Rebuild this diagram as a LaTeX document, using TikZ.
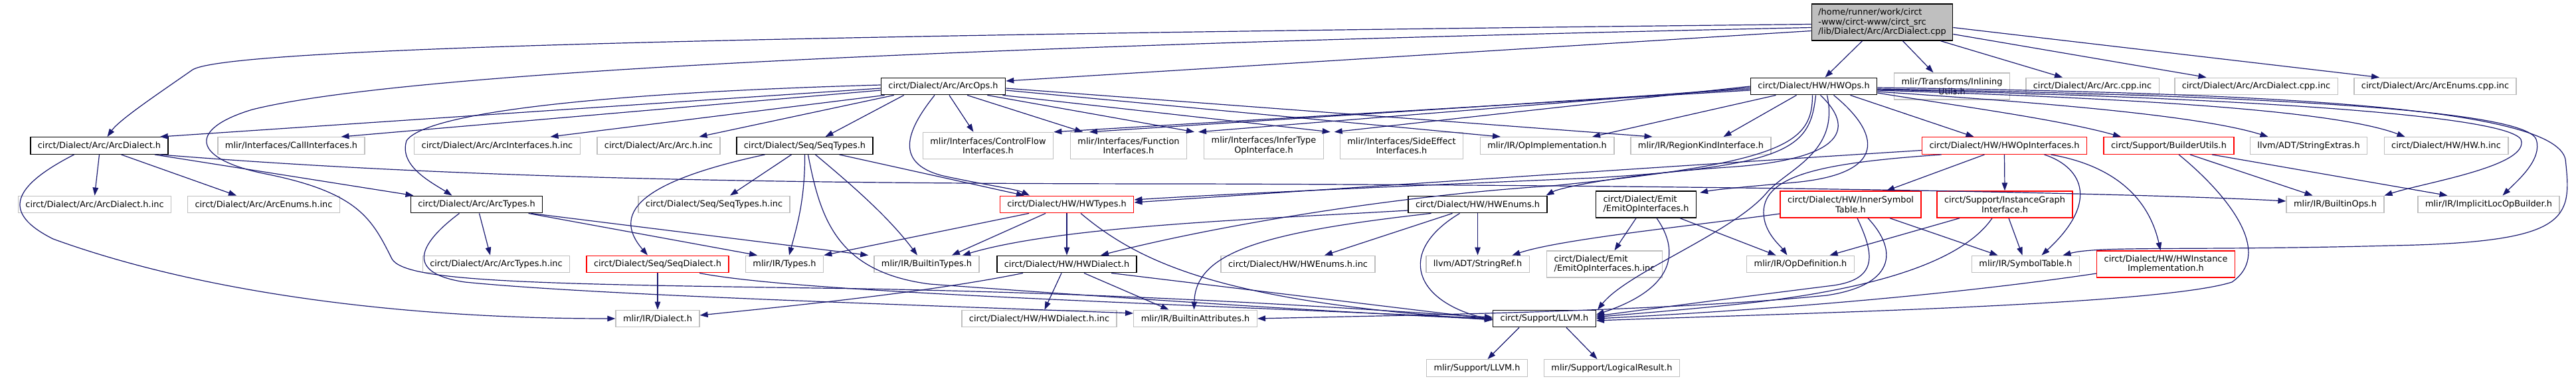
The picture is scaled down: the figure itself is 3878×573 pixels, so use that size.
\documentclass[tikz,border=0pt]{standalone}
\usepackage{fontspec}
\setmainfont{DejaVu Sans}
\usetikzlibrary{arrows.meta}
\definecolor{aresta}{HTML}{191970}
\definecolor{cinza}{HTML}{BFBFBF}
\definecolor{corte}{HTML}{FF0000}

\begin{document}
\begin{tikzpicture}[x=1pt,y=-1pt,font=\fontsize{12.9}{14.5}\selectfont,
  doc/.style={draw=black, fill=white, line width=1.4pt, inner xsep=11pt, inner ysep=0pt, minimum height=25.5pt},
  nodoc/.style={doc, draw=cinza},
  trunc/.style={doc, draw=corte},
  dois/.style={align=center, minimum height=40pt},
  seta/.style={-{Triangle[length=12pt,width=8.5pt]}, aresta, line width=1.2pt}]
\useasboundingbox (0,0) rectangle (3878,573);
% arquivo raiz
\node[doc, fill=cinza, align=left, minimum height=55pt, inner xsep=10pt] (cpp) at (2833.5,33.5) {/home/runner/work/circt\\-www/circt-www/circt\_src\\/lib/Dialect/Arc/ArcDialect.cpp};
% linha 1
\node[doc] (aoh) at (1420,130) {circt/Dialect/Arc/ArcOps.h};
\node[doc] (hoh) at (2730.5,130) {circt/Dialect/HW/HWOps.h};
\node[nodoc, dois] (inl) at (2938.5,130) {mlir/Transforms/Inlining\\Utils.h};
\node[nodoc] (acpp) at (3150,130) {circt/Dialect/Arc/Arc.cpp.inc};
\node[nodoc] (adcpp) at (3396.5,130) {circt/Dialect/Arc/ArcDialect.cpp.inc};
\node[nodoc] (aecpp) at (3666,130) {circt/Dialect/Arc/ArcEnums.cpp.inc};
% linha 2
\node[doc] (adh) at (149.5,219.5) {circt/Dialect/Arc/ArcDialect.h};
\node[nodoc] (cih) at (438.5,219.5) {mlir/Interfaces/CallInterfaces.h};
\node[nodoc] (aiih) at (748.5,219.5) {circt/Dialect/Arc/ArcInterfaces.h.inc};
\node[nodoc] (ahih) at (991.5,219.5) {circt/Dialect/Arc/Arc.h.inc};
\node[doc] (sth) at (1211.5,219.5) {circt/Dialect/Seq/SeqTypes.h};
\node[nodoc, dois] (cfh) at (1487.5,219.5) {mlir/Interfaces/ControlFlow\\Interfaces.h};
\node[nodoc, dois] (fih) at (1699,219.5) {mlir/Interfaces/Function\\Interfaces.h};
\node[nodoc, dois] (ith) at (1902.5,219.5) {mlir/Interfaces/InferType\\OpInterface.h};
\node[nodoc, dois] (seh) at (2110,219.5) {mlir/Interfaces/SideEffect\\Interfaces.h};
\node[nodoc] (oih) at (2329,219.5) {mlir/IR/OpImplementation.h};
\node[nodoc] (rkh) at (2560.5,219.5) {mlir/IR/RegionKindInterface.h};
\node[trunc] (hoih) at (3017.5,219.5) {circt/Dialect/HW/HWOpInterfaces.h};
\node[trunc] (buh) at (3265,219.5) {circt/Support/BuilderUtils.h};
\node[nodoc] (sxh) at (3475.5,219.5) {llvm/ADT/StringExtras.h};
\node[nodoc] (hwih) at (3682.5,219.5) {circt/Dialect/HW/HW.h.inc};
% linha 3
\node[nodoc] (adih) at (142.5,308) {circt/Dialect/Arc/ArcDialect.h.inc};
\node[nodoc] (aeih) at (397,308) {circt/Dialect/Arc/ArcEnums.h.inc};
\node[doc] (ath) at (717.5,308) {circt/Dialect/Arc/ArcTypes.h};
\node[nodoc] (stih) at (1075,308) {circt/Dialect/Seq/SeqTypes.h.inc};
\node[trunc] (hth) at (1606,308) {circt/Dialect/HW/HWTypes.h};
\node[doc] (heh) at (2224.5,308) {circt/Dialect/HW/HWEnums.h};
\node[doc, dois, align=left] (eoh) at (2478,308) {circt/Dialect/Emit\\/EmitOpInterfaces.h};
\node[trunc, dois] (ish) at (2786,308) {circt/Dialect/HW/InnerSymbol\\Table.h};
\node[trunc, dois] (igh) at (3018,308) {circt/Support/InstanceGraph\\Interface.h};
\node[nodoc] (boh) at (3515.5,308) {mlir/IR/BuiltinOps.h};
\node[nodoc] (ilh) at (3746.5,308) {mlir/IR/ImplicitLocOpBuilder.h};
% linha 4
\node[nodoc] (atih) at (747,398) {circt/Dialect/Arc/ArcTypes.h.inc};
\node[trunc] (sdh) at (990,398) {circt/Dialect/Seq/SeqDialect.h};
\node[nodoc] (tyh) at (1181,398) {mlir/IR/Types.h};
\node[nodoc] (bth) at (1395,398) {mlir/IR/BuiltinTypes.h};
\node[doc] (hdh) at (1606,398) {circt/Dialect/HW/HWDialect.h};
\node[nodoc] (heih) at (1954,398) {circt/Dialect/HW/HWEnums.h.inc};
\node[nodoc] (srh) at (2224.5,398) {llvm/ADT/StringRef.h};
\node[nodoc, dois, align=left] (eoih) at (2415.5,398) {circt/Dialect/Emit\\/EmitOpInterfaces.h.inc};
\node[nodoc] (odh) at (2710.5,398) {mlir/IR/OpDefinition.h};
\node[nodoc] (syth) at (3049.5,398) {mlir/IR/SymbolTable.h};
\node[trunc, dois] (hiih) at (3260.5,398) {circt/Dialect/HW/HWInstance\\Implementation.h};
% linha 5 e 6
\node[nodoc] (dih) at (990,480) {mlir/IR/Dialect.h};
\node[nodoc] (hdih) at (1564.5,480) {circt/Dialect/HW/HWDialect.h.inc};
\node[nodoc] (bah) at (1799.5,480) {mlir/IR/BuiltinAttributes.h};
\node[doc] (slh) at (2325,480) {circt/Support/LLVM.h};
\node[nodoc] (mlh) at (2223.5,554.5) {mlir/Support/LLVM.h};
\node[nodoc] (lrh) at (2426.5,554.5) {mlir/Support/LogicalResult.h};
% arestas retas
\foreach \a/\b in {adh.south/adih.north, heh.south/srh.north, hth.south/hdh.north, sdh.south/dih.north, hoih.south/igh.north}
  \draw[seta] (\a) -- (\b);
% raiz
\draw[seta] ([yshift=-3]cpp.west) .. controls (1000,55) and (340,75) .. (290,105) .. controls (240,140) and (180,180) .. ([xshift=12]adh.north);
\draw[seta] ([yshift=-13]cpp.west) -- ([yshift=8]aoh.east);
\draw[seta] ([yshift=-8]cpp.west) .. controls (1400,70) and (600,110) .. (380,165) .. controls (280,195) and (290,240) .. (400,262) .. controls (540,290) and (560,330) .. (590,390) .. controls (610,425) and (800,428) .. (1300,435) .. controls (1800,445) and (2100,470) .. ([yshift=2]slh.west);
\draw[seta] ([xshift=-30]cpp.south) -- ([xshift=17]hoh.north);
\draw[seta] ([xshift=31]cpp.south) -- ([xshift=-28]inl.north);
\draw[seta] ([xshift=88]cpp.south) -- ([xshift=-45]acpp.north);
\draw[seta] ([yshift=-18]cpp.east) -- ([xshift=-75]adcpp.north);
\draw[seta] ([yshift=-8]cpp.east) -- ([xshift=-84]aecpp.north);
% arcops
\draw[seta] ([yshift=-3]aoh.west) -- ([xshift=-13]adh.north east);
\draw[seta] ([yshift=-6]aoh.west) -- ([xshift=75]cih.north);
\draw[seta] ([xshift=6]aoh.south west) -- ([xshift=80]aiih.north);
\draw[seta] ([xshift=20]aoh.south west) -- ([xshift=61]ahih.north);
\draw[seta] ([xshift=35]aoh.south west) -- ([xshift=31]sth.north);
\draw[seta] ([yshift=2]aoh.west) .. controls (900,140) and (640,170) .. (612,212) .. controls (600,250) and (650,275) .. ([xshift=-37]ath.north);
\draw[seta] ([xshift=-13]aoh.south) .. controls (1370,190) and (1340,245) .. (1420,265) .. controls (1480,278) and (1530,285) .. ([xshift=-56]hth.north);
\draw[seta] ([xshift=9]aoh.south) -- ([xshift=-22]cfh.north);
\draw[seta] ([xshift=36]aoh.south) -- ([xshift=-69]fih.north);
\draw[seta] ([xshift=-28]aoh.south east) -- ([xshift=-14]ith.north west);
\draw[seta] ([xshift=-5]aoh.south east) -- ([xshift=-14]seh.north west);
\draw[seta] ([yshift=-6]aoh.east) -- ([xshift=-70]oih.north);
\draw[seta] ([yshift=-3]aoh.east) -- ([xshift=-73]rkh.north);
% hwops
\draw[seta] ([yshift=-6]hoh.west) -- (cfh.north east);
\draw[seta] ([yshift=-4]hoh.west) -- ([xshift=-59]fih.north);
\draw[seta] ([yshift=-2]hoh.west) -- ([xshift=-8]ith.north west);
\draw[seta] (hoh.west) -- ([xshift=-8]seh.north west);
\draw[seta] ([xshift=-57]hoh.south) -- ([xshift=68]oih.north);
\draw[seta] ([xshift=-26]hoh.south) -- ([xshift=34]rkh.north);
\draw[seta] ([xshift=3]hoh.south) .. controls (2725,220) and (2700,250) .. (2400,268) .. controls (2000,285) and (1800,295) .. ([yshift=7]hth.east);
\draw[seta] ([xshift=-2]hoh.south) .. controls (2728,215) and (2690,245) .. (2336,280) .. controls (2100,295) and (1830,340) .. ([xshift=51]hdh.north);
\draw[seta] ([xshift=10]hoh.south) .. controls (2790,190) and (2785,240) .. (2600,252) .. controls (2450,262) and (2350,282) .. ([xshift=103]heh.north);
\draw[seta] ([xshift=30]hoh.south) .. controls (2830,200) and (2845,262) .. (2700,275) .. controls (2620,282) and (2580,286) .. ([xshift=5,yshift=-3]eoh.north east);
\draw[seta] ([xshift=20]hoh.south) .. controls (2770,230) and (2690,255) .. (2660,290) .. controls (2610,350) and (2450,410) .. ([xshift=2]slh.north east);
\draw[seta] ([xshift=55]hoh.south) -- ([xshift=-46]hoih.north);
\draw[seta] ([yshift=-10]hoh.east) .. controls (2950,160) and (3100,180) .. ([xshift=-72]buh.north);
\draw[seta] ([yshift=-8]hoh.east) .. controls (3000,150) and (3300,170) .. ([xshift=-61]sxh.north);
\draw[seta] ([yshift=-6]hoh.east) .. controls (3100,145) and (3500,160) .. ([xshift=-62]hwih.north);
\draw[seta] ([yshift=-5]hoh.east) .. controls (3300,145) and (3770,170) .. (3795,210) .. controls (3810,250) and (3650,275) .. ([xshift=74]boh.north);
\draw[seta] ([yshift=-4]hoh.east) .. controls (3300,142) and (3800,160) .. (3818,210) .. controls (3828,240) and (3790,272) .. ([xshift=21]ilh.north);
\draw[seta] ([yshift=-2]hoh.east) .. controls (3400,140) and (3845,160) .. (3862,240) .. controls (3872,330) and (3870,365) .. (3600,370) .. controls (3300,378) and (3160,370) .. ([xshift=56]syth.north);
% hwopinterfaces
\draw[seta] ([yshift=-7]hoih.west) .. controls (2600,245) and (2000,285) .. ([yshift=3]hth.east);
\draw[seta] ([xshift=-30]hoih.south) -- ([xshift=54]ish.north);
\draw[seta] ([xshift=60]hoih.south) .. controls (3130,250) and (3165,300) .. ([xshift=24]syth.north);
\draw[seta] ([xshift=70]hoih.south) .. controls (3185,250) and (3235,300) .. ([xshift=-8]hiih.north);
\draw[seta] ([xshift=-95]hoih.south) .. controls (2750,245) and (2655,262) .. (2655,320) .. controls (2655,350) and (2680,370) .. ([xshift=-20]odh.north);
% builderutils
\draw[seta] ([xshift=32]buh.south) -- ([xshift=-34]boh.north);
\draw[seta] ([xshift=65]buh.south) -- ([xshift=-62]ilh.north);
\draw[seta] ([xshift=15]buh.south) .. controls (3350,290) and (3425,380) .. (3360,425) .. controls (3250,460) and (2700,472) .. ([yshift=-3]slh.east);
% innersymbol / instancegraph / hwinstance
\draw[seta] ([xshift=59]ish.south) -- ([xshift=-42]syth.north);
\draw[seta] ([yshift=-14]ish.west) .. controls (2550,340) and (2350,360) .. ([xshift=52]srh.north);
\draw[seta] ([xshift=10]ish.south) .. controls (2820,380) and (2830,420) .. (2760,430) .. controls (2600,450) and (2450,470) .. ([yshift=4]slh.east);
\draw[seta] ([xshift=26]ish.south) .. controls (2860,380) and (2850,430) .. (2750,445) .. controls (2500,470) and (2100,475) .. (bah.east);
\draw[seta] ([xshift=-68]igh.south) -- ([xshift=44]odh.north);
\draw[seta] ([xshift=6]igh.south) -- ([xshift=-5]syth.north);
\draw[seta] ([xshift=-19]igh.south) .. controls (2950,400) and (2800,440) .. (2600,460) .. controls (2500,470) and (2430,475) .. ([yshift=2]slh.east);
\draw[seta] ([yshift=-14]hiih.west) .. controls (2900,450) and (2600,470) .. (slh.east);
% emit
\draw[seta] ([xshift=-15]eoh.south) -- ([xshift=15]eoih.north);
\draw[seta] ([xshift=16]eoh.south) .. controls (2530,380) and (2520,435) .. ([yshift=6]slh.east);
\draw[seta] ([xshift=51]eoh.south) -- ([xshift=-37]odh.north);
% hwenums
\draw[seta] ([yshift=-9]heh.west) .. controls (1900,330) and (1600,340) .. ([xshift=54]bth.north);
\draw[seta] ([xshift=-70]heh.south) .. controls (1900,350) and (1800,380) .. ([xshift=-2]bah.north);
\draw[seta] ([xshift=-38]heh.south) -- ([xshift=40]heih.north);
\draw[seta] ([xshift=-27]heh.south) .. controls (2100,380) and (2130,455) .. ([yshift=-2]slh.west);
% hwtypes / hwdialect
\draw[seta] ([xshift=-57]hth.south) -- (tyh.north east);
\draw[seta] ([xshift=-32]hth.south) -- ([xshift=38]bth.north);
\draw[seta] ([xshift=21]hth.south) .. controls (1720,400) and (1850,455) .. ([yshift=-2]slh.west);
\draw[seta] ([xshift=-66]hdh.south) .. controls (1400,440) and (1200,460) .. ([yshift=5]dih.east);
\draw[seta] ([xshift=-8]hdh.south) -- ([xshift=8]hdih.north);
\draw[seta] ([xshift=26]hdh.south) -- ([xshift=-40]bah.north);
\draw[seta] ([xshift=67]hdh.south) -- ([yshift=-1]slh.west);
% seqtypes / seqdialect
\draw[seta] ([xshift=-60]sth.south) .. controls (980,270) and (915,315) .. ([xshift=-15]sdh.north);
\draw[seta] ([xshift=-20]sth.south) -- ([xshift=24]stih.north);
\draw[seta] (sth.south) .. controls (1212,300) and (1200,340) .. ([xshift=7]tyh.north);
\draw[seta] ([xshift=16]sth.south) .. controls (1290,285) and (1340,330) .. ([xshift=-14]bth.north);
\draw[seta] ([xshift=52]sth.south) -- ([xshift=-64]hth.north);
\draw[seta] ([xshift=5]sth.south) .. controls (1235,330) and (1260,410) .. (1400,428) .. controls (1700,450) and (2000,470) .. ([yshift=-1]slh.west);
\draw[seta] ([xshift=63]sdh.south) .. controls (1200,440) and (1700,455) .. (slh.west);
% arctypes
\draw[seta] ([xshift=4]ath.south) -- ([xshift=-9]atih.north);
\draw[seta] ([xshift=78]ath.south) -- ([xshift=-41]tyh.north);
\draw[seta] ([xshift=-18]ath.south east) -- ([xshift=-8]bth.north west);
\draw[seta] ([xshift=-26]ath.south) .. controls (640,360) and (600,410) .. (700,425) .. controls (900,445) and (1400,460) .. ([yshift=8]bah.west);
% arcdialect
\draw[seta] ([xshift=33]adh.south) -- ([xshift=-41]aeih.north);
\draw[seta] ([xshift=-21]adh.south east) -- ([xshift=-95]ath.north);
\draw[seta] ([xshift=-38]adh.south) .. controls (20,280) and (0,320) .. (80,360) .. controls (300,440) and (600,480) .. (dih.west);
\draw[seta] ([xshift=-13]adh.south east) .. controls (700,270) and (1200,277) .. (1800,277) .. controls (2800,280) and (3300,295) .. ([yshift=5]boh.west);
% llvm
\draw[seta] ([xshift=-38]slh.south) -- ([xshift=16]mlh.north);
\draw[seta] ([xshift=33]slh.south) -- ([xshift=-22]lrh.north);
\end{tikzpicture}
\end{document}
